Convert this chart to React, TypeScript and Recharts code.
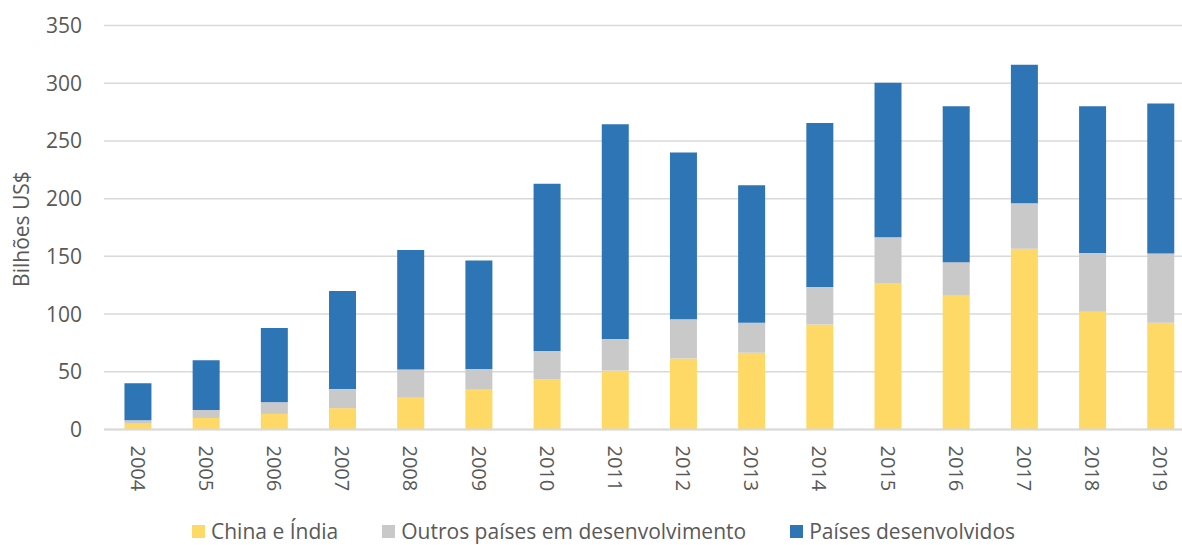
import React from "react";
import { BarChart, Bar, XAxis, YAxis, CartesianGrid, Label } from "recharts";

const years = [
  "2004", "2005", "2006", "2007", "2008", "2009", "2010", "2011",
  "2012", "2013", "2014", "2015", "2016", "2017", "2018", "2019",
];
const chinaIndia = [5, 10, 13.5, 18.5, 27.5, 35, 43.5, 51, 61.5, 66.5, 91, 127, 116, 156.5, 102, 92.5];
const outros = [3, 7, 10, 16.5, 24.5, 17.5, 24.5, 27.5, 34, 26, 32.5, 39.5, 29, 39.5, 51, 60];
const desenvolvidos = [32, 43, 64.5, 85, 103.5, 94, 145, 186, 144.5, 119, 142, 134, 135, 120, 127, 130];
const yTicks = [0, 50, 100, 150, 200, 250, 300, 350];

const COLORS = { china: "#FFD966", outros: "#C9C9C9", dev: "#2E75B6" };
const TEXT = "#595959";
const FONT = "'Open Sans', sans-serif";

const data = years.map((year, i) => ({
  year,
  china: chinaIndia[i],
  outros: outros[i],
  dev: desenvolvidos[i],
}));

const legendItems = [
  { label: "China e Índia", color: COLORS.china },
  { label: "Outros países em desenvolvimento", color: COLORS.outros },
  { label: "Países desenvolvidos", color: COLORS.dev },
];

function YearTick({ x, y, payload }: any) {
  return (
    <text
      transform={`translate(${x},${y + 16}) rotate(90)`}
      textAnchor="start"
      dominantBaseline="central"
      fill={TEXT}
      fontSize={20}
      fontFamily={FONT}
    >
      {payload.value}
    </text>
  );
}

export default function App() {
  return (
    <div
      style={{
        position: "absolute",
        left: 0,
        top: 0,
        width: 1182,
        height: 545,
        overflow: "hidden",
        background: "#fff",
        fontFamily: FONT,
      }}
    >
      <BarChart
        width={1210}
        height={545}
        data={data}
        margin={{ top: 25.5, right: 15, bottom: 0, left: 0 }}
        barCategoryGap="30%"
      >
        <CartesianGrid vertical={false} stroke="#D9D9D9" strokeWidth={1.5} />
        <XAxis
          dataKey="year"
          height={115.5}
          tickLine={false}
          tickSize={0}
          tickMargin={0}
          axisLine={{ stroke: "#D9D9D9", strokeWidth: 2 }}
          tick={<YearTick />}
          interval={0}
        />
        <YAxis
          width={104}
          domain={[0, 350]}
          ticks={yTicks}
          axisLine={false}
          tickLine={false}
          tickSize={0}
          tickMargin={22}
          tick={{ fill: TEXT, fontSize: 21, fontFamily: FONT }}
        >
          <Label
            content={() => (
              <text
                x={21}
                y={229}
                transform="rotate(-90, 21, 229)"
                textAnchor="middle"
                dominantBaseline="central"
                fill={TEXT}
                fontSize={21}
                fontFamily={FONT}
              >
                Bilhões US$
              </text>
            )}
          />
        </YAxis>
        <Bar dataKey="china" stackId="a" fill={COLORS.china} isAnimationActive={false} />
        <Bar dataKey="outros" stackId="a" fill={COLORS.outros} isAnimationActive={false} />
        <Bar dataKey="dev" stackId="a" fill={COLORS.dev} isAnimationActive={false} />
      </BarChart>

      <div
        style={{
          position: "absolute",
          left: 192,
          top: 519,
          display: "flex",
          gap: 44,
          alignItems: "center",
          color: TEXT,
          fontSize: 21,
          lineHeight: "25px",
        }}
      >
        {legendItems.map((it) => (
          <div key={it.label} style={{ display: "flex", alignItems: "center", gap: 6 }}>
            <span style={{ width: 13, height: 13, background: it.color, display: "inline-block" }} />
            <span>{it.label}</span>
          </div>
        ))}
      </div>
    </div>
  );
}
